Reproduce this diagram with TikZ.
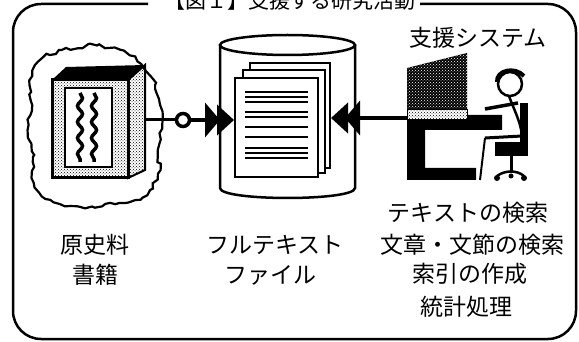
\documentclass[tikz,border=0pt]{standalone}
\usepackage{fontspec}
\newfontfamily\jp{Noto Sans CJK JP}
\usetikzlibrary{arrows.meta,patterns,decorations.pathmorphing}

\begin{document}
\begin{tikzpicture}[x=1pt,y=-1pt,
  txt/.style={font=\jp\fontsize{23}{23}\selectfont, inner sep=0pt},
  heavy/.style={line width=2.5pt},
  page/.style={draw, line width=2pt, fill=white, inner sep=0pt},
  bigarrow/.style={line width=4pt, -{Triangle[length=15pt,width=34pt,sep=-3pt]Triangle[length=17pt,width=30pt]}},
  dotfill/.style={pattern=crosshatch dots}]
\useasboundingbox (0,0) rectangle (579,342);

% outer frame, open at the top for the title
\draw[heavy, rounded corners=28pt] (148,4) -- (13,4) -- (13,339) -- (576,339) -- (576,4) -- (420,4);
\node[font=\jp\fontsize{21}{21}\selectfont, inner sep=0pt] (title) at (290,1) {【図１】支援する研究活動};

% the cloud round the book
\draw[line width=2.2pt, decorate, decoration={random steps, segment length=5pt, amplitude=2pt}]
  plot[smooth cycle] coordinates {(38,62) (50,55) (62,50) (78,48) (90,44) (105,48) (120,50) (135,57)
  (145,70) (155,85) (160,105) (162,125) (158,150) (160,170) (150,190) (135,200) (110,203) (85,208)
  (60,204) (42,196) (32,178) (34,155) (28,130) (32,105) (30,85)};

% the book
\fill (52,80) -- (66,67) -- (145,65) -- (128,80) -- cycle;
\draw[line width=2pt, dotfill] (128,80) -- (145,65) -- (145,170) -- (128,178) -- cycle;
\draw[line width=3pt, dotfill] (52,80) rectangle (128,178);
\draw[line width=2.5pt, fill=white] (65,88) rectangle (112,167);
\foreach \x in {80,94}
  \draw[line width=3.5pt, decorate, decoration={snake, segment length=16pt, amplitude=2.5pt}] (\x,93) -- (\x,162);

% cylinder with the text files
\draw[heavy, fill=white] (220,45) -- (220,188) .. controls (220,201.3) and (355,201.3) .. (355,188) -- (355,45);
\draw[heavy] (287.5,45) ellipse[x radius=67.5, y radius=10];
\node[page, minimum width=80pt, minimum height=105pt] (back) at (290,115.5) {};
\node[page, minimum width=82pt, minimum height=103pt] (middle) at (284,121.5) {};
\node[page, minimum width=83pt, minimum height=99pt] (front) at (276.5,127.5) {};
\foreach \y in {92,97,102,112,117,127,137,148,153,158}
  \draw[line width=2.2pt] (245,\y) -- (308,\y);

% book to file
\coordinate (bookR) at (145,120);
\node[circle, draw, line width=3.5pt, minimum size=13pt, inner sep=0pt, fill=white] (ring) at (183,120) {};
\draw[line width=3pt] (bookR) -- (ring);
\draw[bigarrow] (ring) -- (ring -| front.west);

% computer and desk
\fill (407,68) -- (467,53) -- (467,110) -- (407,110) -- cycle;
\fill[pattern=crosshatch dots, pattern color=white] (407,68) -- (467,53) -- (467,110) -- (407,110) -- cycle;
\fill (407,115) -- (502,115) -- (502,130) -- (425,130) -- (425,168) -- (476,168) -- (476,180) -- (407,180) -- cycle;
\draw[line width=1pt, fill=white] (407,110) rectangle (467,120);
\fill[dotfill] (407,110) rectangle (467,120);
\coordinate (deskL) at (407,118);
\draw[bigarrow] (deskL) -- (deskL -| back.east);

% the user on his chair
\draw[line width=2.5pt] (510,84) circle[radius=12];
\draw[line width=4pt] (497,82) .. controls (496,70) and (515,66) .. (524,76);
\draw[line width=2.5pt] (509,96) .. controls (514,110) and (520,120) .. (522,135);
\draw[line width=3.5pt] (485,109) -- (518,103);
\draw[line width=3pt] (522,136) -- (485,138);
\draw[line width=2pt] (485,138) -- (480,180);
\fill (520,103) rectangle (528,142);
\fill (495,142) rectangle (528,156);
\draw[line width=3pt] (511,156) -- (511,172);
\draw[line width=2.5pt] (497,176) .. controls (505,170) and (517,170) .. (524,176);
\fill (497,178) circle[radius=3] (524,178) circle[radius=3] (511,176) circle[radius=2.5];

% labels
\node[txt] (sys) at (478,38) {支援システム};
\node[txt] (src1) at (95,245) {原史料};
\node[txt] (src2) at (95,275) {書籍};
\node[txt] (ft1) at (275,245) {フルテキスト};
\node[txt] (ft2) at (270,275) {ファイル};
\node[txt] (use1) at (468,213) {テキストの検索};
\node[txt] (use2) at (472,245) {文章・文節の検索};
\node[txt] (use3) at (470,274) {索引の作成};
\node[txt] (use4) at (466,307) {統計処理};
\end{tikzpicture}
\end{document}
